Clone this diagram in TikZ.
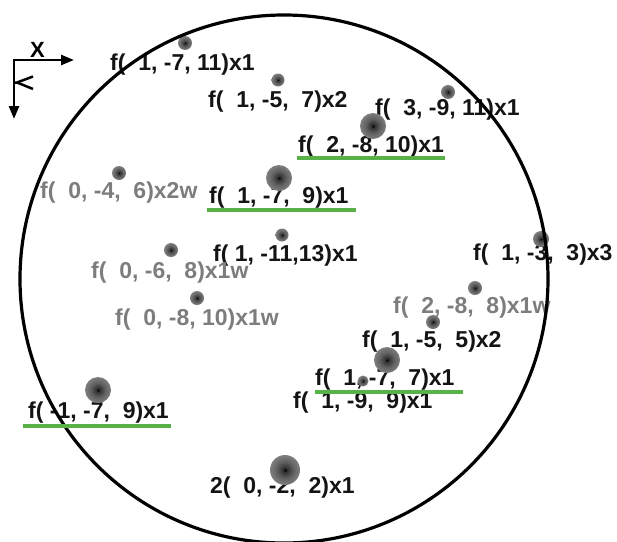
\documentclass[tikz,border=0pt]{standalone}
\usepackage{fontspec}
\setmainfont{Liberation Sans}
\usetikzlibrary{arrows.meta}
\definecolor{ulgreen}{RGB}{88,178,72}
\definecolor{wgray}{RGB}{125,125,125}
\definecolor{txtdark}{RGB}{20,20,20}
\pgfdeclareradialshading{blobshade}{\pgfpointorigin}{color(0bp)=(black); color(4bp)=(black!80); color(14bp)=(black!62); color(30bp)=(black!45); color(44bp)=(black!32); color(50bp)=(black!15)}
\begin{document}
\begin{tikzpicture}[x=1pt,y=-1pt,
  lbl/.style={anchor=base west, inner sep=0pt, font=\bfseries\fontsize{23}{23}\selectfont, text=txtdark},
  wlbl/.style={lbl, text=wgray},
  blob/.style={circle, inner sep=0pt, shade, shading=blobshade, minimum size=#1},
  ring/.style={draw=black, line width=3.2pt},
  uline/.style={draw=ulgreen, line width=4.5pt},
  axis/.style={line width=2.6pt, -{Triangle[length=13pt,width=10pt]}},
]
\useasboundingbox (0,0) rectangle (617,541);

% axes
\coordinate (o) at (12.7,60);
\coordinate (o2) at (14,58.7);
\coordinate (xe) at (74,60);
\coordinate (ye) at (14,119);
\draw[axis] (o) -- (xe);
\draw[axis] (o2) -- (ye);
\node[anchor=base, inner sep=0pt, font=\bfseries\fontsize{22}{22}\selectfont] (xl) at (37.5,57.5) {X};
\coordinate (yv) at (17,82.5);
\draw[line width=2.5pt] (14,82.5) -- (yv) -- (33,76.5);
\draw[line width=2.5pt] (yv) -- (33,89);

% labels
\node[lbl]  (t1)  at (110,70)  {f(\ \ 1, -7, 11)x1};
\node[lbl]  (t2)  at (208,107) {f(\ \ 1, -5,\ \ 7)x2};
\node[lbl]  (t3)  at (375,115) {f(\ \ 3, -9, 11)x1};
\node[lbl]  (t4)  at (298,152) {f(\ \ 2, -8, 10)x1};
\node[wlbl] (t5)  at (40,198)  {f(\ \ 0, -4,\ \ 6)x2w};
\node[lbl]  (t6)  at (209,203) {f(\ \ 1, -7,\ \ 9)x1};
\node[lbl]  (t7)  at (213,261) {f( 1, -11,13)x1};
\node[wlbl] (t8)  at (91,278)  {f(\ \ 0, -6,\ \ 8)x1w};
\node[wlbl] (t9)  at (115,325) {f(\ \ 0, -8, 10)x1w};
\node[lbl]  (t10) at (473,260) {f(\ \ 1, -3,\ \ 3)x3};
\node[wlbl] (t11) at (393,313) {f(\ \ 2, -8,\ \ 8)x1w};
\node[lbl]  (t12) at (362,347) {f(\ \ 1, -5,\ \ 5)x2};
\node[lbl]  (t13) at (315,385) {f(\ \ 1, -7,\ \ 7)x1};
\node[lbl]  (t14) at (293,408) {f(\ \ 1, -9,\ \ 9)x1};
\node[lbl]  (t15) at (28,418)  {f( -1, -7,\ \ 9)x1};
\node[lbl]  (t16) at (210,493) {2(\ \ 0, -2,\ \ 2)x1};

% blobs
\node[blob=14pt] (b1)  at (185,43)  {};
\node[blob=13pt] (b2)  at (278,80)  {};
\node[blob=14pt] (b3)  at (448,92)  {};
\node[blob=26pt] (b4)  at (373,126) {};
\node[blob=14pt] (b5)  at (119,173) {};
\node[blob=26pt] (b6)  at (279,178) {};
\node[blob=13pt] (b7)  at (282,235) {};
\node[blob=14pt] (b8)  at (171,250) {};
\node[blob=14pt] (b9)  at (197,298) {};
\node[blob=16pt] (b10) at (541,239) {};
\node[blob=14pt] (b11) at (475,288) {};
\node[blob=14pt] (b12) at (433,322) {};
\node[blob=26pt] (b13) at (387,360) {};
\node[blob=11pt] (b14) at (363,381) {};
\node[blob=26pt] (b15) at (98,390)  {};
\node[blob=30pt] (b16) at (285,470) {};

% outer ring
\coordinate (c) at (284,279);
\draw[ring] (c) circle (264pt);

% green underlines
\draw[uline] (297,158) -- (445,158);
\draw[uline] (207,210) -- (356,210);
\draw[uline] (315,392) -- (463,392);
\draw[uline] (23,426) -- (171,426);
\end{tikzpicture}
\end{document}
